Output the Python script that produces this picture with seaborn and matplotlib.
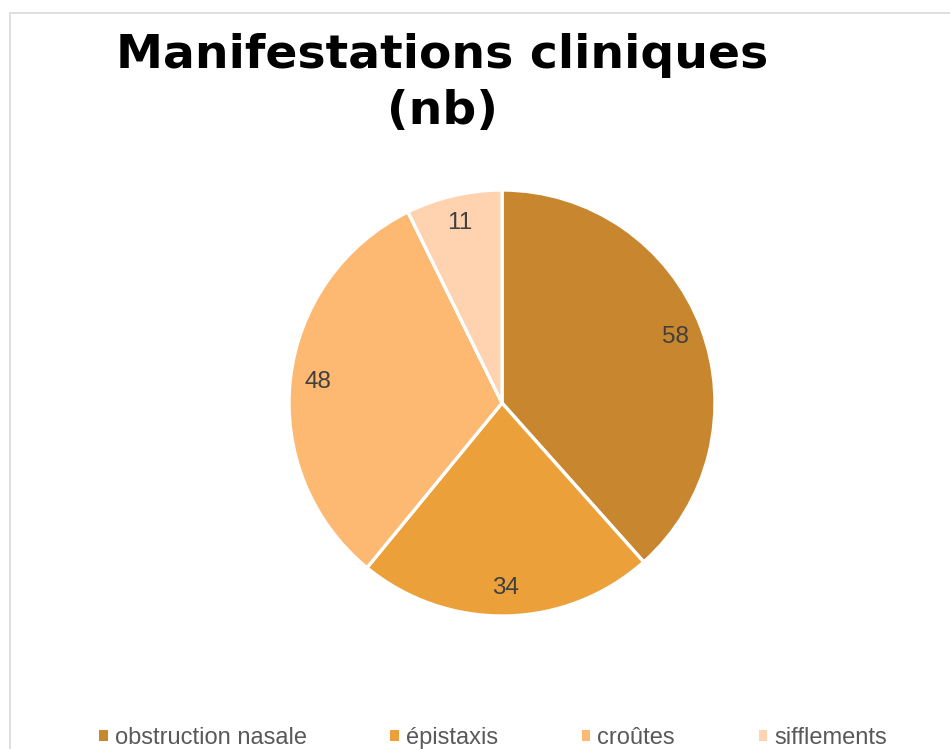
import matplotlib
matplotlib.use("Agg")
import matplotlib.pyplot as plt
import seaborn as sns
from matplotlib.patches import Patch, Rectangle

categories = ["obstruction nasale", "épistaxis", "croûtes", "sifflements"]
values = [58, 34, 48, 11]
colors = ["#C8862E", "#ECA039", "#FDB872", "#FFD3B0"]
title_lines = ["Manifestations cliniques", "(nb)"]

sns.set_theme(style="white")
plt.rcParams["font.family"] = ["Liberation Sans", "DejaVu Sans"]
palette = sns.color_palette(colors)

W, H = 950, 749
fig = plt.figure(figsize=(W / 100, H / 100), dpi=100)
fig.patch.set_facecolor("white")

# border
fig.add_artist(Rectangle((10 / W, -0.1), 1.2, (H - 13) / H + 0.1, transform=fig.transFigure,
                         fill=False, edgecolor="#D9D9D9", linewidth=1.2))

cx, cy, r = 502, 403, 213
ax = fig.add_axes([(cx - r) / W, (H - cy - r) / H, 2 * r / W, 2 * r / H])
wedges, texts = ax.pie(values, colors=palette, startangle=90, counterclock=False,
                       labels=[str(v) for v in values], labeldistance=0.87,
                       wedgeprops=dict(edgecolor="white", linewidth=2.4),
                       textprops=dict(fontsize=17.5, color="#404040"))
for t in texts:
    t.set_ha("center")
    t.set_va("center")
ax.set_xlim(-1, 1)
ax.set_ylim(-1, 1)
ax.set_aspect("equal")
ax.axis("off")

fig.text(442 / W, 1 - 68 / H, title_lines[0], ha="center", va="baseline",
         fontsize=34, fontweight="bold", color="black", family="DejaVu Sans")
fig.text(442 / W, 1 - 124 / H, title_lines[1], ha="center", va="baseline",
         fontsize=34, fontweight="bold", color="black", family="DejaVu Sans")

handles = [Patch(facecolor=c, edgecolor="none") for c in palette]
leg = fig.legend(handles, categories, loc="center", bbox_to_anchor=(493 / W, 1 - 738 / H),
                 ncol=4, frameon=False, fontsize=17, handlelength=0.35, handleheight=0.35,
                 handletextpad=0.3, columnspacing=3.55, labelcolor="#595959",
                 borderaxespad=0, borderpad=0)

fig.savefig("out.png", dpi=100, facecolor="white")
